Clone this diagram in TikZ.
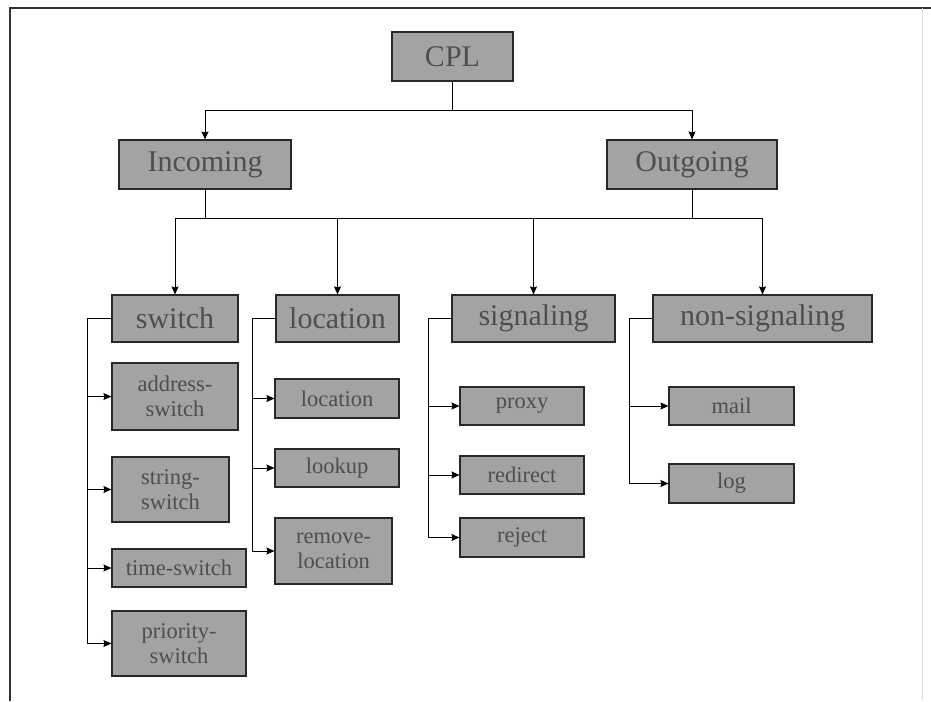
\documentclass[tikz,border=0pt]{standalone}
\usepackage{fontspec}
\setmainfont{Liberation Serif}
\usetikzlibrary{arrows.meta}
\definecolor{boxfill}{RGB}{163,163,163}
\definecolor{boxtext}{RGB}{78,78,78}
\definecolor{boxline}{RGB}{40,40,40}
\tikzset{
  bx/.style={draw=boxline, line width=1.1pt, fill=boxfill, text=boxtext, inner sep=0pt, align=center, anchor=center},
  big/.style={bx, font=\fontsize{30}{32}\selectfont},
  small/.style={bx, font=\fontsize{22.5}{25}\selectfont},
  conn/.style={draw=black, line width=1pt},
  arr/.style={conn, -{Stealth[length=8pt,width=7pt,inset=1pt]}},
}
\begin{document}
\begin{tikzpicture}[x=1pt,y=-1pt]
\useasboundingbox (0,0) rectangle (931,701);
\draw[line width=1.2pt, black!80] (10,701) -- (10,8) -- (931,8);
\draw[line width=0.6pt, black!12] (922,8) -- (922,701);

% top levels
\node[big, minimum width=121pt, minimum height=49pt] (cpl) at (452.5,56.5) {CPL};
\node[big, minimum width=172pt, minimum height=49pt] (inc) at (205,164.5) {Incoming};
\node[big, minimum width=170pt, minimum height=49pt] (out) at (692,164.5) {Outgoing};

\node[big, minimum width=126pt, minimum height=47pt] (sw) at (175,318.5) {switch};
\node[big, minimum width=123pt, minimum height=47pt] (loc) at (337.5,318.5) {location};
\node[big, minimum width=163pt, minimum height=47pt] (sig) at (533.5,318.5) {signaling};
\node[big, minimum width=219pt, minimum height=47pt] (ns) at (762.5,318.5) {non-signaling};

% switch children
\node[small, minimum width=126pt, minimum height=67pt] (as) at (175,396.5) {address-\\switch};
\node[small, minimum width=117pt, minimum height=65pt] (ss) at (170.5,489.5) {string-\\switch};
\node[small, minimum width=134pt, minimum height=38pt] (ts) at (179,568) {time-switch};
\node[small, minimum width=134pt, minimum height=65pt] (ps) at (179,643.5) {priority-\\switch};

% location children
\node[small, minimum width=124pt, minimum height=39pt] (lc) at (337,398.5) {location};
\node[small, minimum width=124pt, minimum height=38pt] (lk) at (337,468) {lookup};
\node[small, minimum width=117pt, minimum height=66pt] (rl) at (333.5,551) {remove-\\location};

% signaling children
\node[small, minimum width=124pt, minimum height=38pt] (px) at (522,406) {proxy};
\node[small, minimum width=124pt, minimum height=38pt] (rd) at (522,475) {redirect};
\node[small, minimum width=124pt, minimum height=39pt] (rj) at (522,537.5) {reject};

% non-signaling children
\node[small, minimum width=125pt, minimum height=38pt] (ml) at (731.5,406) {mail};
\node[small, minimum width=125pt, minimum height=39pt] (lg) at (731.5,483.5) {log};

% CPL to Incoming/Outgoing
\coordinate (j1) at (452.5,110);
\draw[conn] (cpl.south) -- (j1);
\draw[arr] (j1) -| (inc.north);
\draw[arr] (j1) -| (out.north);

% bus to second level
\coordinate (bus) at (0,218);
\draw[conn] (inc.south) -- (inc.south |- bus);
\draw[conn] (out.south) -- (out.south |- bus);
\draw[conn] (sw.north |- bus) -- (ns.north |- bus);
\draw[arr] (sw.north |- bus) -- (sw.north);
\draw[arr] (loc.north |- bus) -- (loc.north);
\draw[arr] (sig.north |- bus) -- (sig.north);
\draw[arr] (ns.north |- bus) -- (ns.north);

% switch branches
\draw[conn] (sw.west) -- ++(-24,0) coordinate (swx);
\draw[arr] (swx) |- (as.west);
\draw[arr] (swx) |- (ss.west);
\draw[arr] (swx) |- (ts.west);
\draw[arr] (swx) |- (ps.west);

% location branches
\draw[conn] (loc.west) -- ++(-23,0) coordinate (lcx);
\draw[arr] (lcx) |- (lc.west);
\draw[arr] (lcx) |- (lk.west);
\draw[arr] (lcx) |- (rl.west);

% signaling branches
\draw[conn] (sig.west) -- ++(-23,0) coordinate (sgx);
\draw[arr] (sgx) |- (px.west);
\draw[arr] (sgx) |- (rd.west);
\draw[arr] (sgx) |- (rj.west);

% non-signaling branches
\draw[conn] (ns.west) -- ++(-23,0) coordinate (nsx);
\draw[arr] (nsx) |- (ml.west);
\draw[arr] (nsx) |- (lg.west);
\end{tikzpicture}
\end{document}
